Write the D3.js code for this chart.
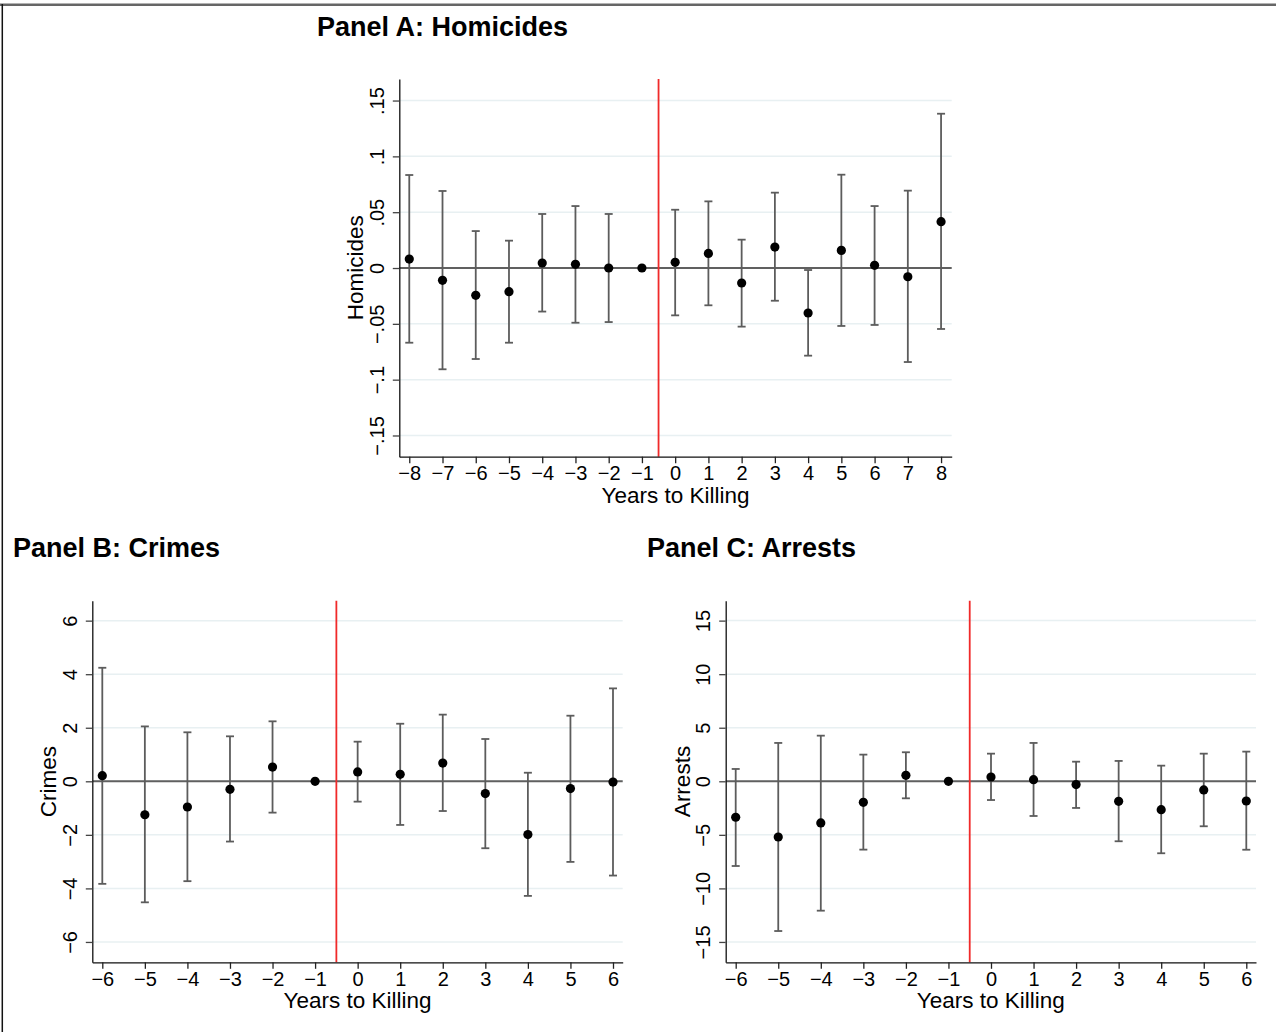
<!DOCTYPE html>
<html>
<head>
<meta charset="utf-8">
<script src="https://cdn.jsdelivr.net/npm/d3@7"></script>
<style>
  body { margin: 0; background: #fff; }
  svg { display: block; font-family: "Liberation Sans", Arial, Helvetica, sans-serif; }
</style>
</head>
<body>
<svg id="chart" width="1279" height="1032"></svg>
<script>
// event-time categories
const yearsA = [-8, -7, -6, -5, -4, -3, -2, -1, 0, 1, 2, 3, 4, 5, 6, 7, 8];
const yearsBC = [-6, -5, -4, -3, -2, -1, 0, 1, 2, 3, 4, 5, 6];

// Panel A: homicides (coef, lower, upper); -1 is the omitted year
const homCoef = [0.008, -0.011, -0.0245, -0.0212, 0.0045, 0.0033, 0.0, 0, 0.0051, 0.0131, -0.0134, 0.0188, -0.0403, 0.0158, 0.0024, -0.0078, 0.0415];
const homLo = [-0.0669, -0.0907, -0.0815, -0.0669, -0.039, -0.049, -0.0484, null, -0.0424, -0.0334, -0.0525, -0.0293, -0.0785, -0.0519, -0.051, -0.0842, -0.0546];
const homHi = [0.0833, 0.069, 0.0331, 0.0245, 0.0484, 0.0555, 0.0484, null, 0.0522, 0.0597, 0.0254, 0.0675, -0.0018, 0.0836, 0.0555, 0.0693, 0.1382];

// Panel B: crimes
const crimeCoef = [0.21, -1.25, -0.96, -0.3, 0.53, 0, 0.35, 0.26, 0.68, -0.46, -1.99, -0.27, -0.03];
const crimeLo = [-3.83, -4.52, -3.73, -2.25, -1.17, null, -0.76, -1.63, -1.11, -2.5, -4.28, -3.01, -3.52];
const crimeHi = [4.24, 2.05, 1.83, 1.68, 2.24, null, 1.48, 2.15, 2.49, 1.58, 0.32, 2.45, 3.47];

// Panel C: arrests
const arrestCoef = [-3.36, -5.2, -3.89, -1.96, 0.56, 0, 0.4, 0.15, -0.31, -1.87, -2.65, -0.81, -1.84];
const arrestLo = [-7.91, -13.98, -12.08, -6.38, -1.59, null, -1.75, -3.24, -2.49, -5.6, -6.72, -4.2, -6.39];
const arrestHi = [1.15, 3.58, 4.26, 2.49, 2.71, null, 2.58, 3.58, 1.83, 1.9, 1.46, 2.58, 2.77];

// tick values
const homTicks = [-0.15, -0.1, -0.05, 0, 0.05, 0.1, 0.15];
const crimeTicks = [-6, -4, -2, 0, 2, 4, 6];
const arrestTicks = [-15, -10, -5, 0, 5, 10, 15];

const eventLine = -0.5;

// stata style labels: unicode minus, no leading zero
const stataFmt = v => {
    let s = String(Math.abs(v)).replace(/^0\./, ".");
    return (v < 0 ? "\u2212" : "") + s;
};

const svg = d3.select("#chart");

// outer frame
svg.append("line")
    .attr("x1", 0).attr("x2", 1276)
    .attr("y1", 4.7).attr("y2", 4.7)
    .attr("stroke", "#666").attr("stroke-width", 2.5);
svg.append("line")
    .attr("x1", 2.3).attr("x2", 2.3)
    .attr("y1", 4).attr("y2", 1032)
    .attr("stroke", "#111").attr("stroke-width", 1.5);

const drawPanel = (p) => {
    const x = d3.scaleLinear().domain(p.xDom).range([p.left, p.right]);
    const y = d3.scaleLinear().domain(p.yDom).range([p.bottom, p.top]);

    const g = svg.append("g");

    // panel title
    g.append("text")
        .attr("x", p.titleX).attr("y", p.titleY)
        .attr("font-size", 27).attr("font-weight", "bold")
        .attr("fill", "#000")
        .text(p.title);

    // gridlines
    g.selectAll(".grid")
        .data(p.ticks)
        .enter()
        .append("line")
        .attr("class", "grid")
        .attr("x1", p.left).attr("x2", p.right)
        .attr("y1", d => y(d)).attr("y2", d => y(d))
        .attr("stroke", "#e8f0f2").attr("stroke-width", 1.5);

    // zero line
    g.append("line")
        .attr("x1", p.left).attr("x2", p.right)
        .attr("y1", y(0)).attr("y2", y(0))
        .attr("stroke", "#606060").attr("stroke-width", 2);

    // event line
    g.append("line")
        .attr("x1", x(eventLine)).attr("x2", x(eventLine))
        .attr("y1", p.top).attr("y2", p.bottom)
        .attr("stroke", "#f02a2a").attr("stroke-width", 1.8);

    const rows = p.years.map((yr, i) => ({ yr: yr, b: p.coef[i], lo: p.lo[i], hi: p.hi[i] }));
    const ci = rows.filter(d => d.lo !== null);

    // error bars
    const bars = g.selectAll(".ci").data(ci).enter().append("g").attr("class", "ci")
        .attr("stroke", "#5c5c5c").attr("stroke-width", 1.8);
    bars.append("line")
        .attr("x1", d => x(d.yr)).attr("x2", d => x(d.yr))
        .attr("y1", d => y(d.lo)).attr("y2", d => y(d.hi));
    bars.append("line")
        .attr("x1", d => x(d.yr) - 4).attr("x2", d => x(d.yr) + 4)
        .attr("y1", d => y(d.lo)).attr("y2", d => y(d.lo));
    bars.append("line")
        .attr("x1", d => x(d.yr) - 4).attr("x2", d => x(d.yr) + 4)
        .attr("y1", d => y(d.hi)).attr("y2", d => y(d.hi));

    // points
    g.selectAll(".pt").data(rows).enter().append("circle")
        .attr("class", "pt")
        .attr("cx", d => x(d.yr))
        .attr("cy", d => y(d.b))
        .attr("r", 4.6)
        .attr("fill", "#000");

    // x axis
    const xa = g.append("g")
        .attr("transform", `translate(0,${p.bottom})`)
        .call(d3.axisBottom(x).tickValues(p.years).tickFormat(stataFmt).tickSize(6.5).tickSizeOuter(0));
    xa.select(".domain").attr("stroke", "#111").attr("stroke-width", 1.3);
    xa.selectAll(".tick line").attr("stroke", "#222").attr("stroke-width", 1.3);
    xa.selectAll(".tick text")
        .attr("y", 23.5).attr("dy", null)
        .attr("font-size", 20).attr("fill", "#000")
        .attr("font-family", "Liberation Sans, Arial, sans-serif");

    // y axis
    const ya = g.append("g")
        .attr("transform", `translate(${p.left},0)`)
        .call(d3.axisLeft(y).tickValues(p.ticks).tickFormat(stataFmt).tickSize(6.5).tickSizeOuter(0));
    ya.select(".domain").attr("stroke", "#111").attr("stroke-width", 1.3);
    ya.selectAll(".tick line").attr("stroke", "#444").attr("stroke-width", 1.3);
    ya.selectAll(".tick text")
        .attr("transform", "rotate(-90)")
        .attr("x", 0).attr("y", -15.3).attr("dy", null)
        .attr("text-anchor", "middle")
        .attr("font-size", 20).attr("fill", "#000")
        .attr("font-family", "Liberation Sans, Arial, sans-serif");

    // axis titles
    g.append("text")
        .attr("x", (p.left + p.right) / 2)
        .attr("y", p.bottom + 45.8)
        .attr("text-anchor", "middle")
        .attr("font-size", 22.5)
        .text("Years to Killing");
    g.append("text")
        .attr("transform", `translate(${p.left - 36},${(p.top + p.bottom) / 2}) rotate(-90)`)
        .attr("text-anchor", "middle")
        .attr("font-size", 22.5)
        .text(p.yLabel);
};

drawPanel({
    title: "Panel A: Homicides", titleX: 317, titleY: 36,
    yLabel: "Homicides",
    years: yearsA, coef: homCoef, lo: homLo, hi: homHi, ticks: homTicks,
    left: 399.3, right: 951.7, top: 79, bottom: 456.7,
    xDom: [-8.3, 8.32], yDom: [-0.169, 0.1693]
});

drawPanel({
    title: "Panel B: Crimes", titleX: 13, titleY: 557,
    yLabel: "Crimes",
    years: yearsBC, coef: crimeCoef, lo: crimeLo, hi: crimeHi, ticks: crimeTicks,
    left: 92.3, right: 622.7, top: 600.7, bottom: 962.3,
    xDom: [-6.235, 6.228], yDom: [-6.76, 6.745]
});

drawPanel({
    title: "Panel C: Arrests", titleX: 647, titleY: 557,
    yLabel: "Arrests",
    years: yearsBC, coef: arrestCoef, lo: arrestLo, hi: arrestHi, ticks: arrestTicks,
    left: 725.7, right: 1256, top: 600.7, bottom: 962.3,
    xDom: [-6.235, 6.228], yDom: [-16.9, 16.86]
});
</script>
</body>
</html>
